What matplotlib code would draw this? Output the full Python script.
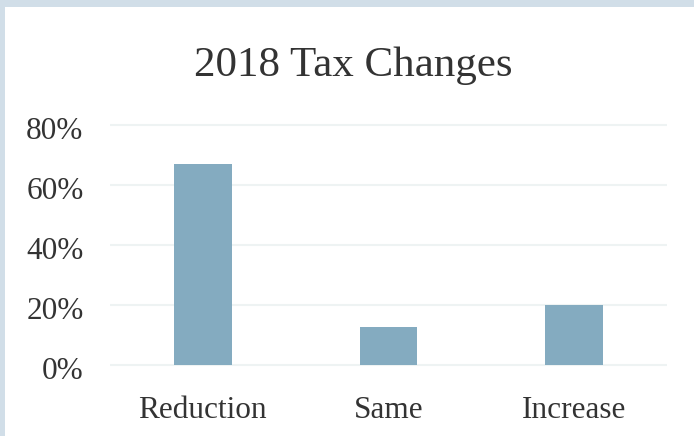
import numpy as np
import matplotlib.pyplot as plt
from matplotlib.patches import Rectangle
from matplotlib.transforms import ScaledTranslation

categories = ['Reduction', 'Same', 'Increase']
shares = [67, 12.6, 20]
yticks = [0, 20, 40, 60, 80]

W, H = 694, 436
fig = plt.figure(figsize=(W / 100, H / 100), dpi=100)
fig.patch.set_facecolor('#d1dee8')
# white card inside the light blue frame
fig.add_artist(Rectangle((5 / W, 0), 1, (H - 7) / H, transform=fig.transFigure,
                         facecolor='white', edgecolor='none', zorder=0))

ax = fig.add_axes([110 / W, (H - 372) / H, (667 - 110) / W, (372 - 118) / H])
ax.set_facecolor('none')

x = np.arange(len(categories))
ax.bar(x, shares, width=0.31, color='#84abc0', zorder=2)

ax.set_xlim(-0.5, len(categories) - 0.5)
ax.set_ylim(-2.3, 82.3)
ax.set_yticks(yticks)
ax.set_yticklabels([f'{v}%' for v in yticks])
ax.set_xticks(x)
ax.set_xticklabels(categories)
for v in yticks:
    ax.axhline(v, color='#eef3f3', linewidth=1.5, zorder=1)

for s in ax.spines.values():
    s.set_visible(False)
ax.tick_params(length=0, labelsize=22.5, labelcolor='#333333')
ax.tick_params(axis='y', pad=19)
ax.tick_params(axis='x', pad=17)
shift = ScaledTranslation(0, -3 / 100, fig.dpi_scale_trans)
for lab in ax.get_yticklabels():
    lab.set_transform(lab.get_transform() + shift)
for lab in ax.get_xticklabels() + ax.get_yticklabels():
    lab.set_family('Liberation Serif')

fig.text(353 / W, 1 - 66 / H, '2018 Tax Changes', ha='center', va='center',
         fontsize=31, family='Liberation Serif', color='#333333')

fig.savefig('out.png', dpi=100, facecolor=fig.get_facecolor())
